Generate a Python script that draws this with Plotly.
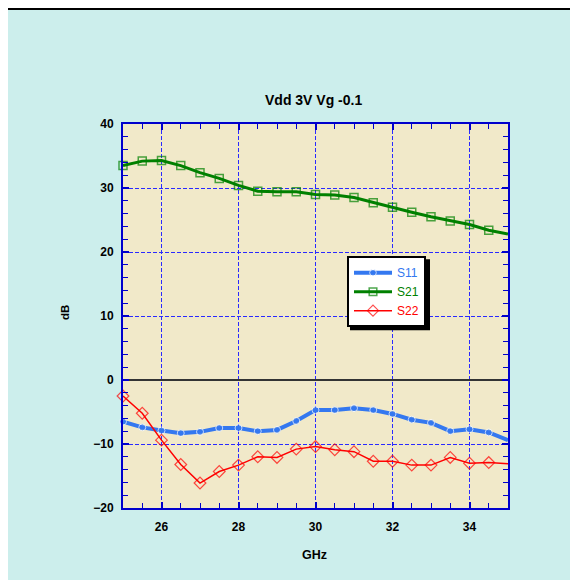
import plotly.graph_objects as go

freq_ghz = [25.0, 25.5, 26.0, 26.5, 27.0, 27.5, 28.0, 28.5, 29.0, 29.5, 30.0,
            30.5, 31.0, 31.5, 32.0, 32.5, 33.0, 33.5, 34.0, 34.5, 35.0]
s11_db = [-6.5, -7.4, -7.9, -8.3, -8.1, -7.5, -7.5, -8.0, -7.8, -6.4, -4.7,
          -4.7, -4.4, -4.7, -5.3, -6.2, -6.7, -8.0, -7.7, -8.2, -9.4]
s21_db = [33.5, 34.2, 34.3, 33.5, 32.4, 31.5, 30.4, 29.5, 29.4, 29.4, 29.0,
          28.9, 28.5, 27.7, 27.0, 26.2, 25.5, 24.85, 24.3, 23.4, 22.8]
s22_db = [-2.5, -5.2, -9.4, -13.2, -16.1, -14.3, -13.3, -12.0, -12.1, -10.8, -10.4,
          -10.9, -11.2, -12.7, -12.7, -13.3, -13.3, -12.1, -13.0, -12.9, -13.1]
series_names = ["S11", "S21", "S22"]
chart_title = "Vdd 3V Vg -0.1"
x_title = "GHz"
y_title = "dB"

# page offset of the plot div (default body margin)
OFF = 8
W, H = 578 - OFF, 580 - OFF
PLOT_L, PLOT_R, PLOT_T, PLOT_B = 123, 508, 124, 508   # page pixels
L, R, T, B = PLOT_L - OFF, 578 - PLOT_R, PLOT_T - OFF, 580 - PLOT_B
PW, PH = PLOT_R - PLOT_L, PLOT_B - PLOT_T

def px(xp):  # page x -> paper
    return (xp - PLOT_L) / PW

def py(yp):  # page y -> paper
    return (PLOT_B - yp) / PH

FONT = "Liberation Sans, Arial, sans-serif"
AXIS_BLUE = "#0000CC"
GRID_BLUE = "#2a2aff"
CYAN = "#CCEEEC"
BEIGE = "#F1E9C9"

colors = ["#3478F0", "#008000", "#FF0000"]

def hide_last(n, size):
    return [size] * (n - 1) + [0]

fig = go.Figure()
n = len(freq_ghz)
fig.add_trace(go.Scatter(
    x=freq_ghz, y=s11_db, mode="lines+markers",
    name=f"<span style='color:{colors[0]}'>{series_names[0]}</span>",
    line=dict(color=colors[0], width=4),
    marker=dict(symbol="circle", size=hide_last(n, 7), color=colors[0]),
    cliponaxis=False))
fig.add_trace(go.Scatter(
    x=freq_ghz, y=s21_db, mode="lines+markers",
    name=f"<span style='color:{colors[1]}'>{series_names[1]}</span>",
    line=dict(color=colors[1], width=3),
    marker=dict(symbol="square-open", size=hide_last(n, 8), color=colors[1],
                line=dict(width=1.5, color=colors[1])),
    cliponaxis=False))
fig.add_trace(go.Scatter(
    x=freq_ghz, y=s22_db, mode="lines+markers",
    name=f"<span style='color:{colors[2]}'>{series_names[2]}</span>",
    line=dict(color=colors[2], width=1.5),
    marker=dict(symbol="diamond-open", size=hide_last(n, 9), color=colors[2],
                line=dict(width=1.2, color=colors[2])),
    cliponaxis=False))

axis_common = dict(
    showline=True, linecolor=AXIS_BLUE, linewidth=2, mirror="ticks",
    ticks="inside", ticklen=6, tickwidth=1.5, tickcolor=AXIS_BLUE,
    showgrid=True, gridcolor=GRID_BLUE, gridwidth=1, griddash="4px,2px",
    tickfont=dict(family=FONT, size=12, color="black", weight="bold"),
)

fig.update_xaxes(range=[25, 35], tick0=0, dtick=2, zeroline=False,
                 ticklabelstandoff=7,
                 minor=dict(dtick=0.5, ticks="inside", ticklen=5,
                            tickwidth=1.2, tickcolor=AXIS_BLUE, showgrid=False),
                 **axis_common)
fig.update_yaxes(range=[-20, 40], tick0=0, dtick=10, zeroline=True,
                 zerolinecolor="#333333", zerolinewidth=1.5,
                 ticklabelstandoff=5,
                 minor=dict(dtick=2, ticks="inside", ticklen=5,
                            tickwidth=1.2, tickcolor=AXIS_BLUE, showgrid=False),
                 **axis_common)

LEG_L, LEG_CY = 347, 291.7
shapes = [
    # top table border line
    dict(type="line", xref="paper", yref="paper", x0=px(OFF), x1=px(578), y0=py(9), y1=py(9),
         line=dict(color="black", width=2)),
    # legend shadow
    dict(type="rect", xref="paper", yref="paper", x0=px(LEG_L + 3), x1=px(LEG_L + 3 + 80),
         y0=py(LEG_CY + 3 + 35.5), y1=py(LEG_CY + 3 - 35.5),
         fillcolor="black", line=dict(width=0), layer="above"),
]

annotations = [
    dict(text=f"<b>{x_title}</b>", xref="paper", yref="paper", x=px(314), y=py(555),
         showarrow=False, font=dict(family=FONT, size=12.5, color="black"),
         xanchor="center", yanchor="middle"),
    dict(text=f"<b>{y_title}</b>", xref="paper", yref="paper", x=px(65), y=py(313),
         showarrow=False, textangle=-90, font=dict(family=FONT, size=11.5, color="black"),
         xanchor="center", yanchor="middle"),
    dict(text=f"<b>{chart_title}</b>", xref="paper", yref="paper", x=px(313), y=py(100),
         showarrow=False, font=dict(family=FONT, size=14, color="black"),
         xanchor="center", yanchor="middle"),
]

fig.update_layout(
    width=W, height=H, autosize=False,
    margin=dict(l=L, r=R, t=T, b=B, pad=0),
    paper_bgcolor=CYAN, plot_bgcolor=BEIGE,
    font=dict(family=FONT, color="black"),
    showlegend=True,
    legend=dict(x=px(LEG_L), y=py(LEG_CY), xanchor="left", yanchor="middle",
                bgcolor="white", bordercolor="black", borderwidth=2,
                font=dict(family=FONT, size=12), tracegroupgap=0,
                itemwidth=38),
    shapes=shapes, annotations=annotations,
)

fig.write_html("out.html")
